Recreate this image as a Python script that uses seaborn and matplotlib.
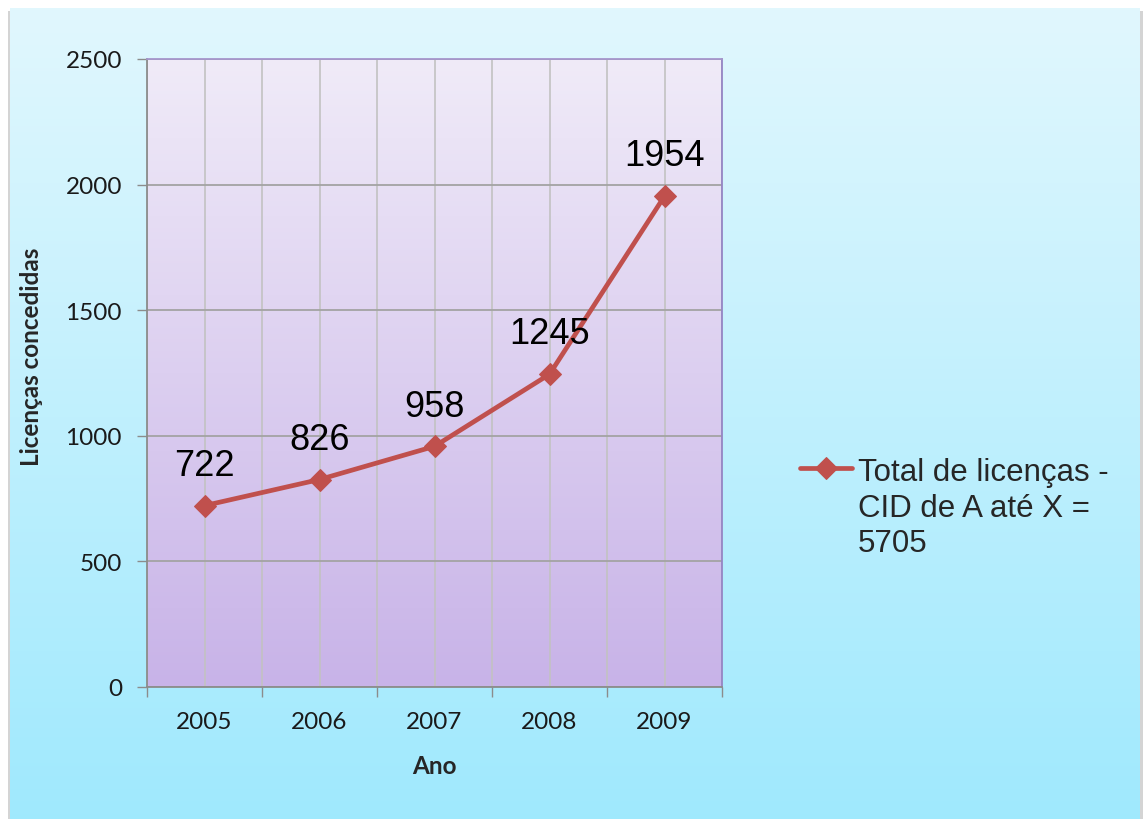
import numpy as np
import matplotlib
matplotlib.use("Agg")
import matplotlib.pyplot as plt
import seaborn as sns
import pandas as pd
from matplotlib.colors import LinearSegmentedColormap
from matplotlib.patches import Rectangle
from matplotlib.ticker import FixedLocator

# Data
anos = ["2005", "2006", "2007", "2008", "2009"]
licencas = [722, 826, 958, 1245, 1954]
y_ticks = [0, 500, 1000, 1500, 2000, 2500]
serie = "Total de licenças -\nCID de A até X =\n5705"
x_titulo = "Ano"
y_titulo = "Licenças concedidas"

df = pd.DataFrame({"Ano": anos, "Licencas": licencas})

sns.set_theme(style="white")
plt.rcParams["font.family"] = ["Lato", "DejaVu Sans"]

W, H = 1143, 820
fig = plt.figure(figsize=(W / 100, H / 100), dpi=100)
fig.patch.set_facecolor("white")

# Chart area: soft shadow and vertical gradient
fig.patches.append(Rectangle((8 / W, -0.02), 1 - 8 / W, 1 - 12 / H + 0.02, transform=fig.transFigure,
                             facecolor="#d4d4d4", edgecolor="none", zorder=-5))
bg = fig.add_axes([10 / W, -0.01, 1130 / W, 1 - 9 / H + 0.01], zorder=0)
grad = np.linspace(0, 1, 256).reshape(-1, 1)
bg.imshow(grad, aspect="auto", origin="upper", extent=[0, 1, 0, 1],
          cmap=LinearSegmentedColormap.from_list("bg", ["#e1f7fd", "#9fe9fd"]))
bg.axis("off")

rect = [147 / W, 1 - 688 / H, 575 / W, 628 / H]

# Plot area gradient
pa = fig.add_axes(rect, zorder=1)
pa.imshow(grad, aspect="auto", origin="upper", extent=[0, 1, 0, 1],
          cmap=LinearSegmentedColormap.from_list("pa", ["#f0ebf8", "#c8b3e8"]))
pa.axis("off")

ax = fig.add_axes(rect, zorder=2)
ax.patch.set_alpha(0)

sns.lineplot(data=df, x="Ano", y="Licencas", ax=ax, color="#c0504d", linewidth=3.4,
             marker="D", markersize=11, markeredgecolor="#c0504d", label=serie, zorder=5)

ax.set_xlim(-0.5, len(anos) - 0.5)
ax.set_ylim(y_ticks[0], y_ticks[-1])
ax.set_yticks(y_ticks)
ax.set_xticks(range(len(anos)))
ax.set_xticklabels(anos)
ax.xaxis.set_minor_locator(FixedLocator(np.arange(-0.5, len(anos), 1.0)))

ax.grid(True, axis="y", which="major", color="#a3a3a3", linewidth=1.3, zorder=1)
ax.grid(True, axis="x", which="major", color="#c2c2c2", linewidth=1.2, zorder=1)
ax.grid(True, axis="x", which="minor", color="#c2c2c2", linewidth=1.2, zorder=1)
ax.set_axisbelow(True)

ax.tick_params(axis="y", which="major", direction="out", length=7, width=1, color="#8c8c8c",
               pad=11, labelsize=17.5, labelcolor="#1a1a1a", left=True)
ax.tick_params(axis="x", which="major", length=0, pad=17, labelsize=17.5, labelcolor="#1a1a1a")
ax.tick_params(axis="x", which="minor", direction="out", length=7, width=1, color="#8c8c8c",
               bottom=True)

for side, col in [("left", "#8c8c8c"), ("bottom", "#8c8c8c"), ("top", "#a596cc"), ("right", "#9585c4")]:
    ax.spines[side].set_visible(True)
    ax.spines[side].set_color(col)
    ax.spines[side].set_linewidth(1.3)

ax.set_xlabel(x_titulo, fontsize=17.5, fontweight="bold", labelpad=16)
ax.set_ylabel(y_titulo, fontsize=17.5, fontweight="bold")
ax.yaxis.set_label_coords((43 - 147) / 575, (688 - 357) / 628)

# Data labels
for i, v in enumerate(licencas):
    ax.annotate(f"{v}", (i, v), xytext=(0, 29), textcoords="offset points",
                ha="center", va="center", fontsize=26, family="Liberation Sans",
                color="black", zorder=6)

leg = ax.legend(loc="upper left", bbox_to_anchor=(800 / W, 1 - 458 / H),
                bbox_transform=fig.transFigure, frameon=False,
                handlelength=1.65, handletextpad=0.2, borderpad=0, borderaxespad=0,
                prop={"family": "Liberation Sans", "size": 22.5})
for t in leg.get_texts():
    t.set_linespacing(1.25)
# keep the legend key level with the first line of its label
for col in leg._legend_handle_box.get_children():
    for row in col.get_children():
        row.align = "top"

fig.savefig("out.png", dpi=100, facecolor=fig.get_facecolor())
